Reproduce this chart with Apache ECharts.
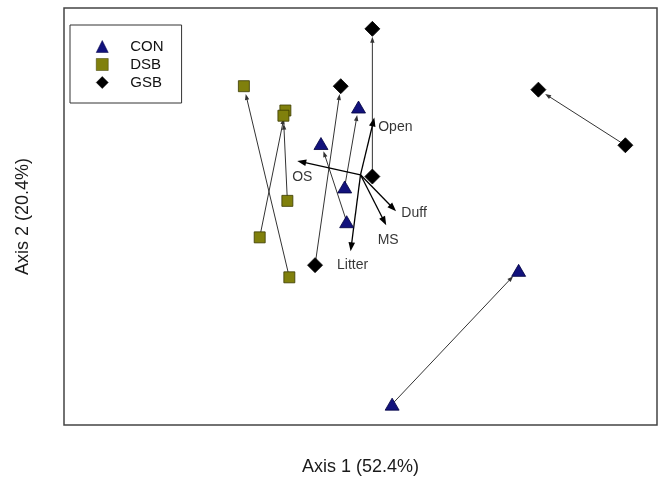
<!DOCTYPE html>
<html>
<head>
<meta charset="utf-8">
<script src="https://cdn.jsdelivr.net/npm/echarts@6/dist/echarts.min.js"></script>
<style>
  html, body { margin: 0; padding: 0; background: #fff; }
  #chart { width: 659px; height: 479px; }
</style>
</head>
<body>
<div id="chart"></div>
<script>
// ordination scores (start -> end of each trajectory)
const groups = [ 'CON', 'DSB', 'GSB' ];
const conStart = [ [ 0.23, -0.03 ], [ 0.22, 0.17 ], [ 0.46, -1.08 ] ];
const conEnd = [ [ 0.10, 0.42 ], [ 0.29, 0.63 ], [ 1.10, -0.31 ] ];
const dsbStart = [ [ -0.06, -0.35 ], [ -0.21, -0.12 ], [ -0.07, 0.09 ] ];
const dsbEnd = [ [ -0.29, 0.75 ], [ -0.08, 0.61 ], [ -0.09, 0.58 ] ];
const gsbStart = [ [ 0.36, 0.23 ], [ 0.07, -0.28 ], [ 1.64, 0.41 ] ];
const gsbEnd = [ [ 0.36, 1.08 ], [ 0.20, 0.75 ], [ 1.20, 0.73 ] ];

// environmental biplot vectors
const vectorNames = [ 'OS', 'Open', 'Litter', 'Duff', 'MS' ];
const vectorOrigin = [ 0.30, 0.24 ];
const vectorTips = [ [ -0.02, 0.32 ], [ 0.37, 0.57 ], [ 0.25, -0.20 ], [ 0.48, 0.03 ], [ 0.43, -0.05 ] ];

const axisNames = [ 'Axis 1 (52.4%)', 'Axis 2 (20.4%)' ];

const font = '"Liberation Sans", Arial, sans-serif';

// label offsets in px, relative to each vector tip
const labelOffset = {
	OS: [ 5, 16 ],
	Open: [ 21, 10 ],
	Litter: [ 2, 14 ],
	Duff: [ 18, 2 ],
	MS: [ 2, 15 ]
};

const symbolStyle = {
	CON: { symbol: 'triangle', symbolSize: [ 14, 12 ], color: '#12127c', borderColor: '#000040' },
	DSB: { symbol: 'rect', symbolSize: 11, color: '#80800c', borderColor: '#3a3a00' },
	GSB: { symbol: 'diamond', symbolSize: [ 15, 15 ], color: '#000000', borderColor: '#000000' }
};

const arrowItem = ( gap, headLen, headW, color, width ) => ( params, api ) => {
	const p0 = api.coord( [ api.value( 0 ), api.value( 1 ) ] );
	const p1 = api.coord( [ api.value( 2 ), api.value( 3 ) ] );
	const dx = p1[ 0 ] - p0[ 0 ];
	const dy = p1[ 1 ] - p0[ 1 ];
	const len = Math.hypot( dx, dy );
	const ux = dx / len;
	const uy = dy / len;
	const tip = [ p1[ 0 ] - ux * gap, p1[ 1 ] - uy * gap ];
	const base = [ tip[ 0 ] - ux * headLen, tip[ 1 ] - uy * headLen ];
	return {
		type: 'group',
		children: [ {
			type: 'line',
			shape: { x1: p0[ 0 ], y1: p0[ 1 ], x2: base[ 0 ] + ux * 2, y2: base[ 1 ] + uy * 2 },
			style: { stroke: color, lineWidth: width }
		}, {
			type: 'polygon',
			shape: {
				points: [
					tip,
					[ base[ 0 ] - uy * headW, base[ 1 ] + ux * headW ],
					[ base[ 0 ] + uy * headW, base[ 1 ] - ux * headW ]
				]
			},
			style: { fill: color }
		} ]
	};
};

const starts = [ conStart, dsbStart, gsbStart ];
const ends = [ conEnd, dsbEnd, gsbEnd ];

const trajectories = [];
starts.forEach( ( s, g ) => {
	s.forEach( ( p, i ) => {
		trajectories.push( [ p[ 0 ], p[ 1 ], ends[ g ][ i ][ 0 ], ends[ g ][ i ][ 1 ] ] );
	} );
} );

const vectors = vectorTips.map( ( t ) => [ vectorOrigin[ 0 ], vectorOrigin[ 1 ], t[ 0 ], t[ 1 ] ] );

const pointSeries = groups.map( ( name, g ) => {
	const st = symbolStyle[ name ];
	return {
		name,
		type: 'scatter',
		symbol: st.symbol,
		symbolSize: st.symbolSize,
		itemStyle: { color: st.color, borderColor: st.borderColor, borderWidth: 0.8, opacity: 1 },
		data: starts[ g ].concat( ends[ g ] ),
		z: 5,
		silent: true
	};
} );

const chart = echarts.init( document.getElementById( 'chart' ), null, { renderer: 'canvas' } );

chart.setOption( {
	animation: false,
	textStyle: { fontFamily: font },
	grid: {
		left: 64,
		right: 2,
		top: 8,
		bottom: 54,
		show: true,
		borderColor: '#444',
		borderWidth: 1.5,
		outerBoundsMode: 'none'
	},
	xAxis: {
		type: 'value',
		min: -1.2,
		max: 1.8,
		name: axisNames[ 0 ],
		nameLocation: 'middle',
		nameGap: 33,
		nameTextStyle: { fontSize: 18, color: '#1a1a1a', fontFamily: font },
		axisLine: { show: false },
		axisTick: { show: false },
		axisLabel: { show: false },
		splitLine: { show: false }
	},
	yAxis: {
		type: 'value',
		min: -1.2,
		max: 1.2,
		name: axisNames[ 1 ],
		nameLocation: 'middle',
		nameGap: 32,
		nameTextStyle: { fontSize: 18, color: '#1a1a1a', fontFamily: font },
		axisLine: { show: false },
		axisTick: { show: false },
		axisLabel: { show: false },
		splitLine: { show: false }
	},
	legend: {
		data: groups,
		orient: 'vertical',
		left: 70,
		top: 25,
		borderColor: '#333',
		borderWidth: 1,
		padding: [ 14, 18, 13, 26 ],
		itemWidth: 12,
		itemHeight: 12,
		itemGap: 3,
		selectedMode: false,
		itemStyle: { borderWidth: 0.5 },
		textStyle: { fontSize: 15, color: '#111', fontFamily: font, padding: [ 0, 0, 0, 17 ] }
	},
	series: [
		{
			type: 'custom',
			renderItem: arrowItem( 8, 6, 2.2, '#333', 1 ),
			data: trajectories,
			z: 2,
			silent: true
		},
		{
			type: 'custom',
			renderItem: arrowItem( 0, 9, 3.3, '#000', 1.3 ),
			data: vectors,
			z: 3,
			silent: true
		},
		{
			type: 'scatter',
			symbolSize: 0,
			data: vectorTips.map( ( t, i ) => ( {
				value: t,
				label: {
					show: true,
					position: 'inside',
					offset: labelOffset[ vectorNames[ i ] ],
					formatter: vectorNames[ i ],
					fontSize: 14,
					color: '#000',
					fontFamily: font
				}
			} ) ),
			z: 4,
			silent: true
		}
	].concat( pointSeries )
} );
</script>
</body>
</html>
